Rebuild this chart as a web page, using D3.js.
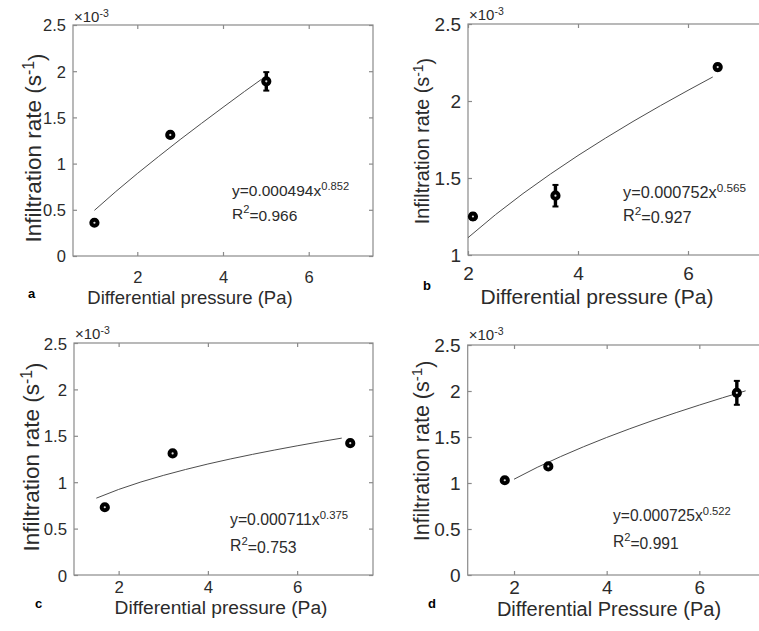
<!DOCTYPE html>
<html>
<head>
<meta charset="utf-8">
<script src="https://cdn.jsdelivr.net/npm/d3@7"></script>
<style>
  html, body { margin: 0; padding: 0; background: #fff; }
  svg { display: block; font-family: "Liberation Sans", Arial, Helvetica, sans-serif; }
</style>
</head>
<body>
<svg id="chart" width="759" height="631"></svg>
<script>
// ---------------- DATA (values in units of 1e-3 s^-1) ----------------
const panelIds = ["a", "b", "c", "d"];
const xLabels = ["Differential pressure (Pa)", "Differential pressure (Pa)", "Differential pressure (Pa)", "Differential Pressure (Pa)"];
const yLabel = "Infiltration rate (s";
const xTickValues = [2, 4, 6];
const yTicksFull = [0, 0.5, 1, 1.5, 2, 2.5];
const yTicksB = [1, 1.5, 2, 2.5];

// measured points
const pressureA = [1.0, 2.77, 5.01];
const rateA = [0.36, 1.31, 1.89];
const errA = [0.02, 0.02, 0.10];
const pressureB = [2.09, 3.59, 6.54];
const rateB = [1.25, 1.385, 2.22];
const errB = [0.02, 0.07, 0.02];
const pressureC = [1.69, 3.21, 7.19];
const rateC = [0.73, 1.31, 1.42];
const errC = [0.02, 0.02, 0.02];
const pressureD = [1.80, 2.74, 6.81];
const rateD = [1.03, 1.18, 1.98];
const errD = [0.02, 0.02, 0.13];

// power-law fit curves
const fitXA = [1, 1.5, 2, 2.5, 3, 3.5, 4, 4.5, 4.9];
const fitYA = [0.494, 0.698, 0.892, 1.078, 1.260, 1.436, 1.609, 1.780, 1.913];
const fitXB = [2, 2.5, 3, 3.5, 4, 4.5, 5, 5.5, 6, 6.45];
const fitYB = [1.1125, 1.262, 1.399, 1.526, 1.646, 1.759, 1.867, 1.970, 2.069, 2.156];
const fitXC = [1.5, 2, 2.5, 3, 3.5, 4, 4.5, 5, 5.5, 6, 6.5, 7];
const fitYC = [0.828, 0.922, 1.0025, 1.073, 1.137, 1.196, 1.250, 1.300, 1.347, 1.392, 1.435, 1.475];
const fitXD = [2, 2.5, 3, 3.5, 4, 4.5, 5, 5.5, 6, 6.5, 7];
const fitYD = [1.041, 1.170, 1.286, 1.394, 1.495, 1.590, 1.680, 1.765, 1.847, 1.926, 2.002];

// equation texts
const eqCoef = ["0.000494", "0.000752", "0.000711", "0.000725"];
const eqExp = ["0.852", "0.565", "0.375", "0.522"];
const rSquared = ["0.966", "0.927", "0.753", "0.991"];

const xDomains = [[0.5, 7.5], [2, 7.5], [1, 7.7], [1, 7.5]];
const yDomains = [[0, 2.5], [1, 2.5], [0, 2.5], [0, 2.5]];

// ---------------- LAYOUT ----------------
const layout = [
  { x0: 73, x1: 373, y0: 256, y1: 25, tickFs: 16.5, xlFs: 18.5, ylFs: 22.5, eqFs: 15.5,
    xTickY: 283, xlX: 190, xlY: 303.5, ylX: 41, ylY: 148, eq: [232, 196, 219], tag: [28, 298], multY: 22 },
  { x0: 468, x1: 770.5, y0: 255, y1: 24, tickFs: 19, xlFs: 21, ylFs: 19.8, eqFs: 16.3,
    xTickY: 280, xlX: 597, xlY: 304, ylX: 429, ylY: 141, eq: [623, 198, 221], tag: [423, 290], multY: 20 },
  { x0: 74, x1: 373, y0: 575, y1: 343, tickFs: 16.8, xlFs: 19.2, ylFs: 22.5, eqFs: 15.8,
    xTickY: 592.5, xlX: 221, xlY: 613.5, ylX: 39, ylY: 457, eq: [230, 525, 551], tag: [35, 608], multY: 339 },
  { x0: 467.7, x1: 768.8, y0: 575, y1: 345, tickFs: 19, xlFs: 20, ylFs: 21.5, eqFs: 15.6,
    xTickY: 594, xlX: 609, xlY: 616.3, ylX: 429, ylY: 451, eq: [613, 521, 547], tag: [428, 608], multY: 340 }
];

const pointSets = [
  { px: pressureA, py: rateA, pe: errA, fx: fitXA, fy: fitYA, yt: yTicksFull },
  { px: pressureB, py: rateB, pe: errB, fx: fitXB, fy: fitYB, yt: yTicksB },
  { px: pressureC, py: rateC, pe: errC, fx: fitXC, fy: fitYC, yt: yTicksFull },
  { px: pressureD, py: rateD, pe: errD, fx: fitXD, fy: fitYD, yt: yTicksFull }
];

const svg = d3.select("#chart");
const axisColor = "#8a8a8a";
const textColor = "#2b2b2b";

panelIds.forEach((id, i) => {
  const L = layout[i];
  const S = pointSets[i];
  const x = d3.scaleLinear().domain(xDomains[i]).range([L.x0, L.x1]);
  const y = d3.scaleLinear().domain(yDomains[i]).range([L.y0, L.y1]);
  const g = svg.append("g");

  // box
  g.append("rect")
    .attr("x", L.x0).attr("y", L.y1)
    .attr("width", L.x1 - L.x0).attr("height", L.y0 - L.y1)
    .attr("fill", "none").attr("stroke", axisColor).attr("stroke-width", 1.2);

  // axes via d3 (inward ticks)
  const fmt = d => d3.format("")(d);
  const bottom = g.append("g").attr("transform", `translate(0,${L.y0})`)
    .call(d3.axisBottom(x).tickValues(xTickValues).tickSize(-4).tickSizeOuter(0).tickPadding(0).tickFormat(fmt));
  const top = g.append("g").attr("transform", `translate(0,${L.y1})`)
    .call(d3.axisTop(x).tickValues(xTickValues).tickSize(-4).tickSizeOuter(0).tickFormat(""));
  const left = g.append("g").attr("transform", `translate(${L.x0},0)`)
    .call(d3.axisLeft(y).tickValues(S.yt).tickSize(-4).tickSizeOuter(0).tickPadding(7).tickFormat(fmt));
  const right = g.append("g").attr("transform", `translate(${L.x1},0)`)
    .call(d3.axisRight(y).tickValues(S.yt).tickSize(-4).tickSizeOuter(0).tickFormat(""));

  [bottom, top, left, right].forEach(ax => {
    ax.select(".domain").remove();
    ax.selectAll(".tick line").attr("stroke", axisColor).attr("stroke-width", 1.2);
    ax.selectAll("text").attr("fill", textColor).attr("font-size", L.tickFs)
      .attr("font-family", "Liberation Sans, Arial, sans-serif");
  });
  bottom.selectAll(".tick text").attr("y", L.xTickY - L.y0).attr("dy", null);
  left.selectAll(".tick text").attr("x", -7).attr("dy", "0.36em");

  // exponent label ×10^-3
  const mt = g.append("text").attr("x", L.x0 + 1).attr("y", L.multY)
    .attr("fill", textColor).attr("font-size", 15);
  mt.append("tspan").text("\u00D710");
  mt.append("tspan").attr("dy", "-0.45em").attr("font-size", 10.5).text("-3");

  // fit line
  const fitPts = S.fx.map((v, k) => [v, S.fy[k]]);
  g.append("path")
    .attr("d", d3.line().x(d => x(d[0])).y(d => y(d[1]))(fitPts))
    .attr("fill", "none").attr("stroke", "#4d4d4d").attr("stroke-width", 1);

  // error bars + markers
  const pts = S.px.map((v, k) => ({ x: v, y: S.py[k], e: S.pe[k] }));
  const eb = g.append("g");
  eb.selectAll("line.v").data(pts).join("line")
    .attr("x1", d => x(d.x)).attr("x2", d => x(d.x))
    .attr("y1", d => y(d.y - d.e)).attr("y2", d => y(d.y + d.e))
    .attr("stroke", "#000").attr("stroke-width", 3.4);
  eb.selectAll("line.ct").data(pts).join("line")
    .attr("x1", d => x(d.x) - 3).attr("x2", d => x(d.x) + 3)
    .attr("y1", d => y(d.y + d.e)).attr("y2", d => y(d.y + d.e))
    .attr("stroke", "#000").attr("stroke-width", 2);
  eb.selectAll("line.cb").data(pts).join("line")
    .attr("x1", d => x(d.x) - 3).attr("x2", d => x(d.x) + 3)
    .attr("y1", d => y(d.y - d.e)).attr("y2", d => y(d.y - d.e))
    .attr("stroke", "#000").attr("stroke-width", 2);
  g.append("g").selectAll("circle").data(pts).join("circle")
    .attr("cx", d => x(d.x)).attr("cy", d => y(d.y)).attr("r", 3.1)
    .attr("fill", "#ddd").attr("stroke", "#000").attr("stroke-width", 4);

  // equation
  const eq = g.append("text").attr("x", L.eq[0]).attr("y", L.eq[1])
    .attr("fill", textColor).attr("font-size", L.eqFs);
  eq.append("tspan").text("y=" + eqCoef[i] + "x");
  eq.append("tspan").attr("dy", "-0.5em").attr("font-size", L.eqFs * 0.72).text(eqExp[i]);
  const r2 = g.append("text").attr("x", L.eq[0]).attr("y", L.eq[2])
    .attr("fill", textColor).attr("font-size", L.eqFs);
  r2.append("tspan").text("R");
  r2.append("tspan").attr("dy", "-0.5em").attr("font-size", L.eqFs * 0.72).text("2");
  r2.append("tspan").attr("dy", "0.5em").text("=" + rSquared[i]);

  // x label
  g.append("text").attr("x", L.xlX).attr("y", L.xlY).attr("text-anchor", "middle")
    .attr("fill", textColor).attr("font-size", L.xlFs).text(xLabels[i]);

  // y label (rotated)
  const yl = g.append("text")
    .attr("transform", `translate(${L.ylX},${L.ylY}) rotate(-90)`)
    .attr("text-anchor", "middle").attr("fill", textColor).attr("font-size", L.ylFs);
  yl.append("tspan").text(yLabel);
  yl.append("tspan").attr("dy", "-0.45em").attr("font-size", L.ylFs * 0.7).text("-1");
  yl.append("tspan").attr("dy", "0.45em").text(")");

  // panel tag
  g.append("text").attr("x", L.tag[0]).attr("y", L.tag[1])
    .attr("font-weight", "bold").attr("font-size", 13).attr("fill", "#000").text(id);
});
</script>
</body>
</html>
